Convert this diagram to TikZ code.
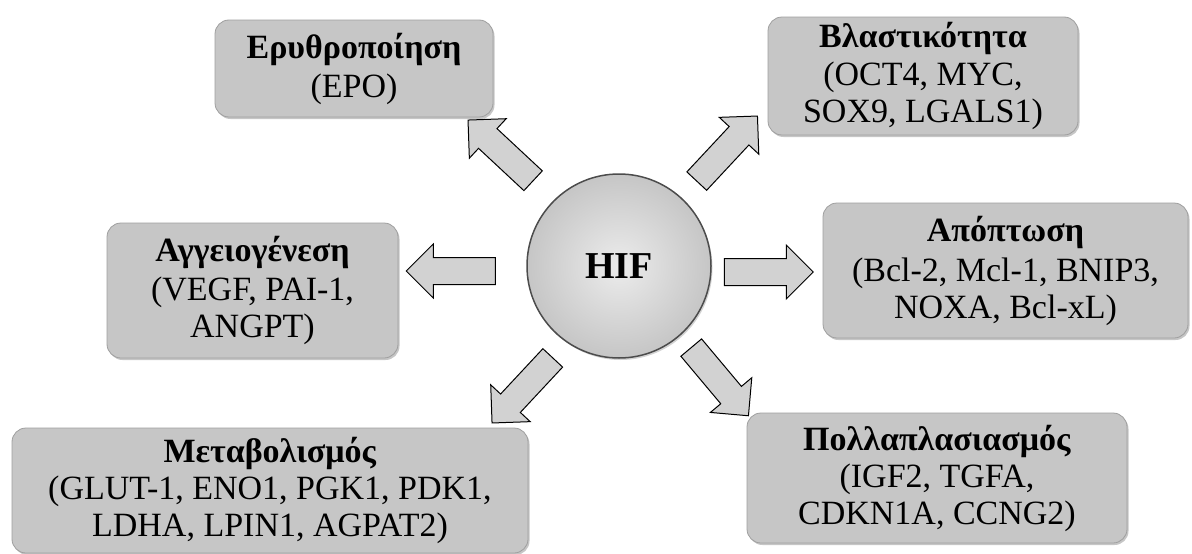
\documentclass[tikz,border=0pt]{standalone}
\usepackage{fontspec}
\setmainfont{Liberation Serif}
\usetikzlibrary{shapes.arrows,shadows}
\begin{document}
\begin{tikzpicture}[x=1pt,y=-1pt,
  box/.style={rectangle, rounded corners=14pt, fill=gray!45, draw=gray!75, line width=0.8pt,
    inner sep=0pt, align=center, font=\fontsize{34}{37}\selectfont,
    drop shadow={opacity=0.45, shadow xshift=1.5pt, shadow yshift=-2pt}},
  blockarrow/.style={single arrow, draw=black, line width=1pt, fill=gray!35,
    minimum height=89pt, inner xsep=0pt, inner ysep=13pt, single arrow head extend=13.5pt,
    single arrow tip angle=90, text height=0pt, text depth=0pt},
  hifnode/.style={circle, minimum size=184pt, inner sep=0pt, draw=gray!60!black, line width=1.5pt,
    inner color=gray!15, outer color=gray!45,
    font=\bfseries\fontsize{38}{40}\selectfont,
    drop shadow={opacity=0.35, shadow xshift=1.5pt, shadow yshift=-2pt}}
]
\useasboundingbox (0,0) rectangle (1192,554);

\node[box, minimum width=278pt, minimum height=97pt] (ery) at (354,68.5)
  {\textbf{Ερυθροποίηση}\\[2pt](EPO)};
\node[box, minimum width=310pt, minimum height=118pt] (bla) at (923,76)
  {\textbf{Βλαστικότητα}\\[1pt](OCT4, MYC,\\SOX9, LGALS1)};
\node[box, minimum width=291pt, minimum height=135pt] (agg) at (252.5,290.5)
  {\textbf{Αγγειογένεση}\\[2pt](VEGF, PAI-1,\\ANGPT)};
\node[box, minimum width=365pt, minimum height=135pt] (apo) at (1005.5,270.5)
  {\textbf{Απόπτωση}\\[3pt](Bcl-2, Mcl-1, BNIP3,\\NOXA, Bcl-xL)};
\node[box, minimum width=516pt, minimum height=125pt] (met) at (270,490.5)
  {\textbf{Μεταβολισμός}\\(GLUT-1, ENO1, PGK1, PDK1,\\LDHA, LPIN1, AGPAT2)};
\node[box, minimum width=380pt, minimum height=130pt] (pol) at (937,478)
  {\textbf{Πολλαπλασιασμός}\\(IGF2, TGFA,\\CDKN1A, CCNG2)};

\node[hifnode] (hif) at (619,266) {HIF};

\node[blockarrow, rotate=137] (a1) at (505.5,155) {};
\node[blockarrow, rotate=47] (a2) at (722.5,153.5) {};
\node[blockarrow, rotate=180] (a3) at (457.5,271) {};
\node[blockarrow, rotate=0] (a4) at (762,272) {};
\node[blockarrow, rotate=227] (a5) at (527,385.5) {};
\node[blockarrow, rotate=-50] (a6) at (715.5,376.5) {};
\end{tikzpicture}
\end{document}
